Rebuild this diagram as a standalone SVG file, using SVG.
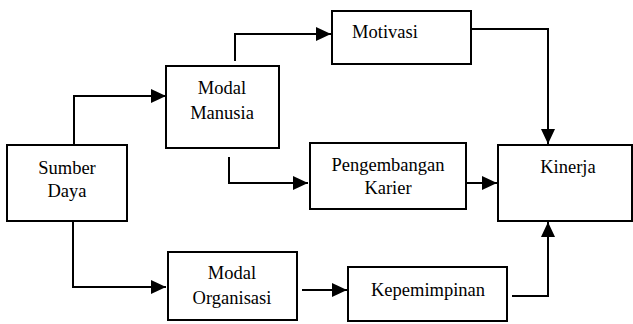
<svg xmlns="http://www.w3.org/2000/svg" width="633" height="324" viewBox="0 0 633 324">
<style>
.box{fill:#fff;stroke:#000;stroke-width:2}
.t{font-family:"Liberation Serif","Times New Roman",serif;font-size:18.5px;fill:#000;text-anchor:middle}
.c{fill:none;stroke:#000;stroke-width:2;marker-end:url(#ah)}
</style>
<defs>
<marker id="ah" viewBox="0 0 15 14" refX="15" refY="7" markerWidth="15" markerHeight="14" markerUnits="userSpaceOnUse" orient="auto">
<path d="M0,0 L15,7 L0,14 Z" fill="#000"/>
</marker>
</defs>
<rect width="633" height="324" fill="#fff"/>
<g id="connectors">
<path class="c" d="M74,145 V96 H166"/>
<path class="c" d="M73,221 V287 H166"/>
<path class="c" d="M235,61 V34 H331"/>
<path class="c" d="M229,157 V183 H308"/>
<path class="c" d="M471,29 H548 V144"/>
<path class="c" d="M466,183 H497"/>
<path class="c" d="M302,290 H347"/>
<path class="c" d="M512,296 H548 V222"/>
</g>
<g id="sumber">
<rect class="box" x="7" y="145" width="120" height="76"/>
<text class="t" x="67" y="174">Sumber</text>
<text class="t" x="67" y="197">Daya</text>
</g>
<g id="modal-manusia">
<rect class="box" x="166" y="66" width="113" height="82"/>
<text class="t" x="222" y="94">Modal</text>
<text class="t" x="222" y="119">Manusia</text>
</g>
<g id="motivasi">
<rect class="box" x="332" y="11" width="139" height="53"/>
<text class="t" x="385" y="38">Motivasi</text>
</g>
<g id="pengembangan">
<rect class="box" x="310" y="143" width="156" height="66"/>
<text class="t" x="388" y="171">Pengembangan</text>
<text class="t" x="388" y="194">Karier</text>
</g>
<g id="kinerja">
<rect class="box" x="498" y="145" width="134" height="76"/>
<text class="t" x="568" y="173">Kinerja</text>
</g>
<g id="modal-organisasi">
<rect class="box" x="168" y="252" width="129" height="68"/>
<text class="t" x="232" y="279">Modal</text>
<text class="t" x="232" y="304">Organisasi</text>
</g>
<g id="kepemimpinan">
<rect class="box" x="348" y="267" width="159" height="54"/>
<text class="t" x="428" y="296">Kepemimpinan</text>
</g>
</svg>
